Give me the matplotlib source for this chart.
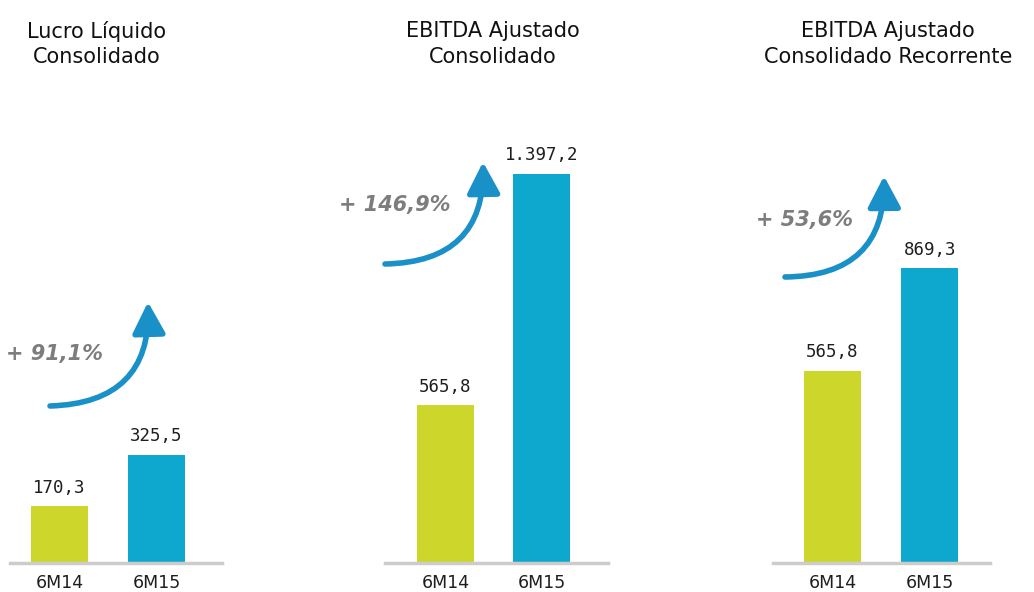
import matplotlib
matplotlib.use("Agg")
import matplotlib.pyplot as plt

# ---- data ----
titles = ["Lucro Líquido\nConsolidado",
          "EBITDA Ajustado\nConsolidado",
          "EBITDA Ajustado\nConsolidado Recorrente"]
categories = ["6M14", "6M15"]
values_lucro = [170.3, 325.5]
values_ebitda = [565.8, 1397.2]
values_recorrente = [565.8, 869.3]
growth_labels = ["+ 91,1%", "+ 146,9%", "+ 53,6%"]
value_labels = [["170,3", "325,5"], ["565,8", "1.397,2"], ["565,8", "869,3"]]

series = [values_lucro, values_ebitda, values_recorrente]
bar_colors = ["#cdd62b", "#0ea8cf"]
arrow_color = "#1a90c8"
pct_color = "#7d7d7d"

W, H = 1034, 592
fig = plt.figure(figsize=(W / 100, H / 100), dpi=100)
fig.patch.set_facecolor("white")


def fx(x):
    return x / W


def fy(y):
    return 1 - y / H


# layout per panel (pixels)
panels = [
    dict(L=10, R=222, xlim=(-0.51, 1.675), ymax=1630, title_x=97,
         arrow=((50, 406), (148, 302)), pct=(54, 354)),
    dict(L=385, R=608, xlim=(-0.63, 1.69), ymax=1950, title_x=493,
         arrow=((385, 264), (483, 162)), pct=(395, 205)),
    dict(L=773, R=990, xlim=(-0.61, 1.62), ymax=1602, title_x=888,
         arrow=((785, 277), (884, 176)), pct=(804, 220)),
]
base_y, top_y = 563, 20

for i, p in enumerate(panels):
    ax = fig.add_axes([fx(p["L"]), fy(base_y), fx(p["R"] - p["L"]),
                       (base_y - top_y) / H])
    xs = list(range(len(categories)))
    bars = ax.bar(xs, series[i], width=0.59, color=bar_colors, zorder=2)
    ax.set_xlim(*p["xlim"])
    ax.set_ylim(0, p["ymax"])
    for b, lab in zip(bars, value_labels[i]):
        ax.annotate(lab, (b.get_x() + b.get_width() / 2, b.get_height()),
                    xytext=(0, 7), textcoords="offset points",
                    ha="center", va="bottom", fontsize=12.5,
                    family="DejaVu Sans Mono", color="#1e1e1e")
    ax.set_xticks(xs)
    ax.set_xticklabels(categories, fontsize=12.5, color="#1e1e1e")
    ax.tick_params(axis="x", length=0, pad=8)
    ax.set_yticks([])
    for s in ["left", "right", "top"]:
        ax.spines[s].set_visible(False)
    ax.spines["bottom"].set_color("#cccccc")
    ax.spines["bottom"].set_linewidth(2.5)
    ax.patch.set_alpha(0)

    # title
    fig.text(fx(p["title_x"]), fy(44), titles[i], ha="center", va="center",
             fontsize=15, color="#111111", linespacing=1.35)

    # growth arrow
    (x0, y0), (x1, y1) = p["arrow"]
    fig.add_artist(matplotlib.patches.FancyArrowPatch(
        (fx(x0), fy(y0)), (fx(x1), fy(y1)), transform=fig.transFigure,
        connectionstyle="arc3,rad=0.5",
        arrowstyle="-|>,head_length=0.95,head_width=0.5",
        mutation_scale=20, lw=4, color=arrow_color,
        shrinkA=0, shrinkB=0, capstyle="round"))
    px, py = p["pct"]
    fig.text(fx(px), fy(py), growth_labels[i], ha="center", va="center",
             fontsize=15, fontweight="bold", fontstyle="italic",
             color=pct_color)

fig.savefig("out.png", dpi=100)
